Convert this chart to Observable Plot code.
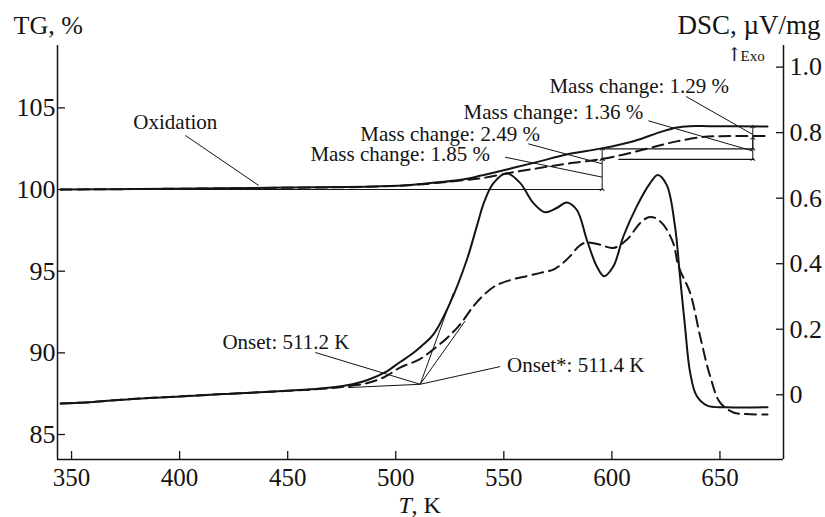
<!DOCTYPE html>
<html><head><meta charset="utf-8">
<script src="https://cdn.jsdelivr.net/npm/d3@7"></script>
<script src="https://cdn.jsdelivr.net/npm/@observablehq/plot@0.6"></script>
<style>html,body{margin:0;padding:0;background:#fff}</style>
</head><body><div id="chart"></div>
<script>
// ---- data (T in K) ----
const tgSolid = [[345,100.0],[380,100.03],[420,100.08],[450,100.12],[475,100.15],[493,100.2],[508,100.3],[520,100.45],[531,100.62],[539,100.84],[554.5,101.33],[567,101.74],[579,102.15],[595.3,102.52],[610,102.96],[622,103.5],[630,103.8],[636,103.88],[645,103.88],[672,103.86]];
const tgDashed = [[345,100.0],[380,100.03],[420,100.07],[450,100.11],[475,100.14],[493,100.19],[508,100.28],[520,100.42],[531,100.57],[539,100.68],[554.5,101.06],[567,101.33],[579,101.58],[595.3,101.87],[610,102.29],[622,102.7],[630,102.95],[641,103.2],[650,103.27],[672,103.27]];
const dscSolid = [[345,-0.027],[360,-0.022],[380,-0.012],[400,-0.005],[420,0.002],[450,0.012],[470,0.022],[480,0.032],[487,0.045],[495,0.068],[502,0.1],[507,0.122],[511.3,0.145],[517.5,0.185],[525.2,0.281],[532.9,0.412],[537.5,0.514],[541,0.59],[545.2,0.646],[551.4,0.676],[557.6,0.646],[563.7,0.585],[569.1,0.557],[574.5,0.570],[579.1,0.587],[583.8,0.564],[588.4,0.473],[593.0,0.392],[596.4,0.362],[600.7,0.392],[605.3,0.483],[611.5,0.575],[617.7,0.646],[621.2,0.671],[625.4,0.64],[629.2,0.514],[631.5,0.362],[633.8,0.210],[636.2,0.068],[639.2,-0.003],[644.1,-0.033],[653.1,-0.038],[672,-0.038]];
const dscDashed = [[345,-0.027],[360,-0.022],[380,-0.012],[400,-0.005],[420,0.002],[450,0.012],[470,0.02],[480,0.028],[487,0.036],[495,0.055],[502,0.083],[511,0.108],[517.5,0.139],[524,0.175],[529.8,0.215],[536,0.271],[540,0.3],[546,0.332],[553,0.35],[560.6,0.362],[567,0.372],[572.9,0.382],[577,0.4],[580.7,0.423],[585,0.455],[588.4,0.465],[594.5,0.458],[600.7,0.448],[606.9,0.473],[613.1,0.524],[617,0.542],[620,0.54],[623.8,0.519],[628.4,0.463],[630.8,0.392],[636.2,0.311],[640.8,0.179],[645.4,0.058],[650,-0.023],[656.2,-0.054],[662,-0.059],[672,-0.06]];

const xTicks = [350,400,450,500,550,600,650];
const tgTicks = [85,90,95,100,105];
const dscTicks = [0,0.2,0.4,0.6,0.8,1.0];

// mass-change steps (TG %)
const massLabels = ["Mass change: 1.85 %","Mass change: 2.49 %","Mass change: 1.36 %","Mass change: 1.29 %"];
const stepT = [595.5, 665.2];            // temperatures of the measurement arrows
const levelSolid = [100, 102.49, 103.85];
const levelDashed = [100, 101.85, 103.14];
const onsetLabels = ["Onset: 511.2 K","Onset*: 511.4 K"];
const onsetT = [511.2, 511.4];

// ---- scales ----
const xDomain = [343.5, 679.4];
const tgDomain = [83.47, 108.82];
const dscDomain = [-0.1976, 1.066];
const toTG = d => tgDomain[0] + (d - dscDomain[0]) / (dscDomain[1] - dscDomain[0]) * (tgDomain[1] - tgDomain[0]);
const toDSC = v => dscDomain[0] + (v - tgDomain[0]) / (tgDomain[1] - tgDomain[0]) * (dscDomain[1] - dscDomain[0]);

const pts = (arr, conv = v => v) => arr.map(([T, v]) => ({T, y: conv(v)}));

// annotation geometry (data units)
const oxLeader = [{x1: 402.7, y1: 103.31, x2: 436.6, y2: 100.25}];
const massLeaders = [
  {x1: 550.6, y1: 101.98, x2: stepT[0], y2: 100.76},
  {x1: 561.3, y1: 102.8, x2: stepT[0], y2: 101.58},
  {x1: 616.9, y1: 104.21, x2: stepT[1], y2: 102.36},
  {x1: 634.3, y1: 105.7, x2: stepT[1], y2: 103.37}
];
const massText = [
  {x: 460.5, y: 101.72}, {x: 483.6, y: 103.0}, {x: 531.4, y: 104.33}, {x: 571.1, y: 105.9}
];
const refLines = [
  {x1: xDomain[0], x2: stepT[0], y: levelSolid[0]},
  {x1: stepT[0], x2: stepT[1], y: levelSolid[1]},
  {x1: 603.0, x2: stepT[1], y: levelDashed[1]}
];
const arrows = [
  {x: stepT[0], y1: levelDashed[0], y2: levelDashed[1]},
  {x: stepT[0], y1: levelDashed[1], y2: levelSolid[1]},
  {x: stepT[1], y1: levelSolid[1], y2: levelSolid[2]},
  {x: stepT[1], y1: levelDashed[1], y2: levelDashed[2]}
];
const onsetDSC = 0.032;
const onsetPt = {T: (onsetT[0] + onsetT[1]) / 2, d: onsetDSC};
const onsetLines = [
  {x1: 478, y1: 0.022, x2: onsetPt.T, y2: onsetDSC},        // baseline tangent
  {x1: onsetPt.T, y1: onsetDSC, x2: 526.7, y2: 0.311},       // tangent solid
  {x1: onsetPt.T, y1: onsetDSC, x2: 532.1, y2: 0.225},       // tangent dashed
  {x1: 462.8, y1: 0.129, x2: onsetPt.T, y2: onsetDSC},       // leader Onset
  {x1: 548.3, y1: 0.086, x2: onsetPt.T, y2: onsetDSC}        // leader Onset*
].map(d => ({x1: d.x1, x2: d.x2, y1: toTG(d.y1), y2: toTG(d.y2)}));
const onsetText = [{x: 419.8, y: toTG(0.141)}, {x: 551.5, y: toTG(0.070)}];

const serif = "'Liberation Serif','Times New Roman',Times,serif";
const ink = "#141414";

const chart = Plot.plot({
  width: 825, height: 517,
  marginLeft: 57, marginRight: 42, marginTop: 45, marginBottom: 58,
  x: {domain: xDomain},
  y: {domain: tgDomain},
  style: {fontFamily: serif, fontSize: "26px", color: ink, background: "#fff", overflow: "visible"},
  marks: [
    // axes
    Plot.axisX(xTicks, {anchor: "bottom", tickSize: -8, tickPadding: 17, label: null, strokeWidth: 1.3, fontSize: 25}),
    Plot.axisY(tgTicks, {anchor: "left", tickSize: -8, tickPadding: 10, label: null, strokeWidth: 1.3}),
    Plot.axisY(dscTicks.map(toTG), {anchor: "right", tickSize: -8, tickPadding: 14, label: null, strokeWidth: 1.3,
      tickFormat: v => { const d = Math.round(toDSC(v) * 10) / 10; return d === 0 ? "0" : d.toFixed(1); }}),
    Plot.ruleX([xDomain[0], xDomain[1]], {stroke: ink, strokeWidth: 1.5}),
    Plot.ruleY([tgDomain[0]], {stroke: ink, strokeWidth: 1.5}),

    // reference lines & arrows
    Plot.link(refLines, {x1: "x1", x2: "x2", y1: "y", y2: "y", stroke: ink, strokeWidth: 1.1}),
    Plot.link(arrows, {x1: "x", x2: "x", y1: "y1", y2: "y2", stroke: ink, strokeWidth: 1, markerStart: "arrow", markerEnd: "arrow"}),
    Plot.link(massLeaders, {x1: "x1", y1: "y1", x2: "x2", y2: "y2", stroke: ink, strokeWidth: 1}),
    Plot.link(oxLeader, {x1: "x1", y1: "y1", x2: "x2", y2: "y2", stroke: ink, strokeWidth: 1}),
    Plot.link(onsetLines, {x1: "x1", y1: "y1", x2: "x2", y2: "y2", stroke: ink, strokeWidth: 1}),

    // curves
    Plot.line(pts(tgSolid), {x: "T", y: "y", stroke: ink, strokeWidth: 2, curve: "catmull-rom"}),
    Plot.line(pts(tgDashed), {x: "T", y: "y", stroke: ink, strokeWidth: 2, strokeDasharray: "11,6", curve: "catmull-rom"}),
    Plot.line(pts(dscSolid, toTG), {x: "T", y: "y", stroke: ink, strokeWidth: 2, curve: "catmull-rom"}),
    Plot.line(pts(dscDashed, toTG), {x: "T", y: "y", stroke: ink, strokeWidth: 2, strokeDasharray: "11,6", curve: "catmull-rom"}),

    // annotation text
    Plot.text(["Oxidation"], {x: 378.6, y: 103.68, text: d => d, textAnchor: "start", lineAnchor: "bottom", fontSize: 21, fill: ink}),
    Plot.text(massText, {x: "x", y: "y", text: (d, i) => massLabels[i], textAnchor: "start", lineAnchor: "bottom", fontSize: 21, fill: ink}),
    Plot.text(onsetText, {x: "x", y: "y", text: (d, i) => onsetLabels[i], textAnchor: "start", lineAnchor: "bottom", fontSize: 21, fill: ink}),

    // axis titles
    Plot.text(["TG, %"], {frameAnchor: "top-left", text: d => d, dx: -44, dy: -12, textAnchor: "start", lineAnchor: "bottom", fontSize: 26, fill: ink}),
    Plot.text(["DSC, \u00b5V/mg"], {frameAnchor: "top-right", text: d => d, dx: 37, dy: -12, textAnchor: "end", lineAnchor: "bottom", fontSize: 27, fill: ink}),
    Plot.text(["\u2191"], {frameAnchor: "top-right", text: d => d, dx: -49, dy: 15, textAnchor: "middle", lineAnchor: "bottom", fontSize: 19, fontFamily: "'DejaVu Serif'", fill: ink}),
    Plot.text(["Exo"], {frameAnchor: "top-right", text: d => d, dx: -43, dy: 15, textAnchor: "start", lineAnchor: "bottom", fontSize: 15, fill: ink}),
    Plot.text(["T"], {frameAnchor: "bottom-left", text: d => d, dx: 341, dy: 53, textAnchor: "start", lineAnchor: "bottom", fontSize: 24, fontStyle: "italic", fill: ink}),
    Plot.text([", K"], {frameAnchor: "bottom-left", text: d => d, dx: 354, dy: 53, textAnchor: "start", lineAnchor: "bottom", fontSize: 24, fill: ink})
  ]
});
document.getElementById("chart").appendChild(chart);
</script>
</body></html>
